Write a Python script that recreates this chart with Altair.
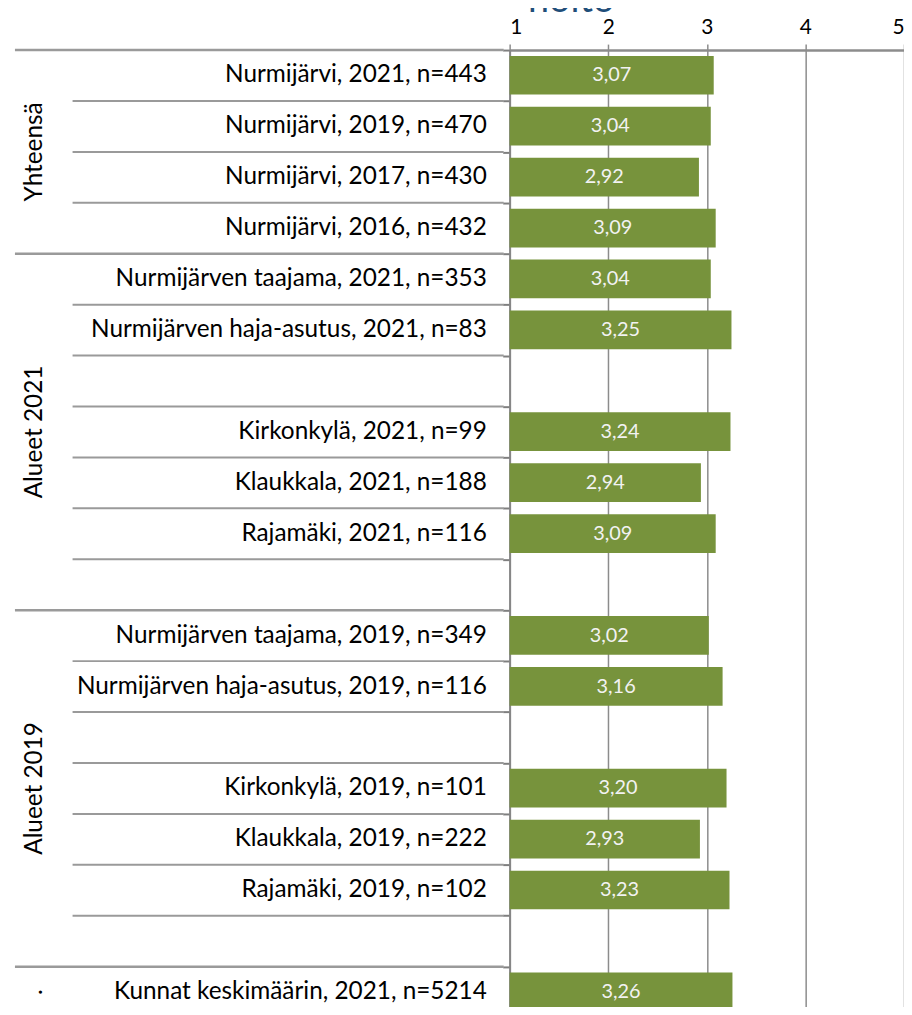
import altair as alt
import pandas as pd

labels = [
    "Nurmijärvi, 2021, n=443",
    "Nurmijärvi, 2019, n=470",
    "Nurmijärvi, 2017, n=430",
    "Nurmijärvi, 2016, n=432",
    "Nurmijärven taajama, 2021, n=353",
    "Nurmijärven haja-asutus, 2021, n=83",
    "",
    "Kirkonkylä, 2021, n=99",
    "Klaukkala, 2021, n=188",
    "Rajamäki, 2021, n=116",
    "",
    "Nurmijärven taajama, 2019, n=349",
    "Nurmijärven haja-asutus, 2019, n=116",
    "",
    "Kirkonkylä, 2019, n=101",
    "Klaukkala, 2019, n=222",
    "Rajamäki, 2019, n=102",
    "",
    "Kunnat keskimäärin, 2021, n=5214",
]
values = [3.07, 3.04, 2.92, 3.09, 3.04, 3.25, None, 3.24, 2.94, 3.09, None,
          3.02, 3.16, None, 3.20, 2.93, 3.23, None, 3.26]
groups = ["Yhteensä", "Alueet 2021", "Alueet 2019", "."]
group_sizes = [4, 7, 7, 1]
x_ticks = [1, 2, 3, 4, 5]
title_text = "hoito"

FONT = "Lato"
N = len(labels)

rows = pd.DataFrame({"i": list(range(N)), "label": labels, "value": values})
bars = rows.dropna(subset=["value"]).copy()
bars["vlabel"] = bars["value"].map(lambda v: f"{v:.2f}".replace(".", ","))

starts = []
s = 0
for g in group_sizes:
    starts.append(s)
    s += g
grp = pd.DataFrame({"group": groups, "start": starts, "size": group_sizes})
grp["mid"] = grp["start"] + grp["size"] / 2

seps = pd.DataFrame({"i": list(range(N))})
seps["long"] = seps["i"].isin(starts)

yscale = alt.Scale(domain=[0, N], range=[0, 974], nice=False, zero=False)
xscale = alt.Scale(domain=[1, 5], nice=False, zero=False)

base_x_axis = alt.Axis(
    orient="top", values=x_ticks, format="d", title=None,
    tickSize=6, tickColor="#8c8c8c", tickWidth=1.5,
    domainColor="#8c8c8c", domainWidth=2.5,
    grid=True, gridColor="#8c8c8c", gridWidth=1.5,
    labelFont=FONT, labelFontSize=21, labelColor="#000000", labelPadding=7,
)
y_axis = alt.Axis(
    values=list(range(N)), labels=False, title=None, grid=False,
    ticks=True, tickSize=7, tickColor="#7f7f7f", tickWidth=2,
    domainColor="#868686", domainWidth=2,
)

bar_layer = alt.Chart(bars).transform_calculate(
    y0="datum.i + 0.115", y1="datum.i + 0.875"
).mark_bar(color="#77933C").encode(
    x=alt.X("value:Q", scale=xscale, axis=base_x_axis),
    x2=alt.datum(1),
    y=alt.Y("y0:Q", scale=yscale, axis=y_axis),
    y2="y1:Q",
)

val_layer = alt.Chart(bars).transform_calculate(
    yc="datum.i + 0.5", mid="(1 + datum.value) / 2"
).mark_text(font=FONT, fontSize=20, color="#f2f2f2", baseline="middle", align="center").encode(
    x=alt.X("mid:Q", scale=xscale),
    y=alt.Y("yc:Q", scale=yscale),
    text="vlabel:N",
)

cat_layer = alt.Chart(rows).transform_calculate(
    yc="datum.i + 0.5"
).mark_text(font=FONT, fontSize=24.5, color="#000000", baseline="middle", align="right").encode(
    x=alt.value(-23),
    y=alt.Y("yc:Q", scale=yscale),
    text="label:N",
)

short_rules = alt.Chart(seps).transform_filter("!datum.long").mark_rule(
    color="#9a9a9a", strokeWidth=2
).encode(
    x=alt.value(-440), x2=alt.value(-6),
    y=alt.Y("i:Q", scale=yscale),
)
long_rules = alt.Chart(seps).transform_filter("datum.long").mark_rule(
    color="#9a9a9a", strokeWidth=2.5
).encode(
    x=alt.value(-498), x2=alt.value(-6),
    y=alt.Y("i:Q", scale=yscale),
)

grp_layer = alt.Chart(grp).mark_text(
    font=FONT, fontSize=24.5, color="#000000", angle=270, baseline="middle", align="center"
).encode(
    x=alt.value(-478),
    y=alt.Y("mid:Q", scale=yscale),
    text="group:N",
)

title_layer = alt.Chart(pd.DataFrame({"t": [title_text]})).mark_text(
    font=FONT, fontSize=38, color="#1F4E79", baseline="alphabetic", align="center"
).encode(
    x=alt.value(62), y=alt.value(-38), text="t:N",
)

chart = alt.layer(
    short_rules, long_rules, bar_layer, val_layer, cat_layer, grp_layer, title_layer
).properties(
    width=397, height=960,
    autosize=alt.AutoSizeParams(type="none"),
    padding={"left": 505, "top": 39, "right": 0, "bottom": 0},
).configure_view(stroke=None)

chart.save("out.html", embed_options={"renderer": "svg", "actions": False})
